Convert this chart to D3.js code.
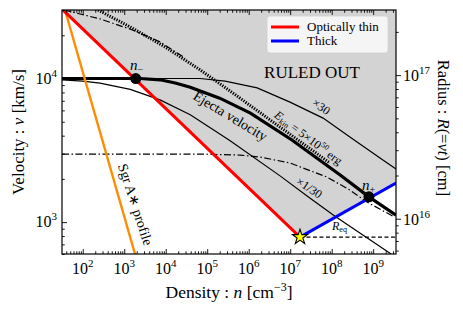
<!DOCTYPE html>
<html>
<head>
<meta charset="utf-8">
<script src="https://cdn.jsdelivr.net/npm/d3@7"></script>
<style>
  body { margin: 0; background: #fff; }
  svg text { font-family: "Liberation Serif", "Times New Roman", Times, serif; fill: #000; }
</style>
</head>
<body>
<svg id="chart" width="463" height="314"></svg>
<script>
// ---- data (density n [cm^-3], velocity v [km/s]) ----
const xMajor = [1e2, 1e3, 1e4, 1e5, 1e6, 1e7, 1e8, 1e9];
const vMajor = [1e3, 1e4];
const rMajor = [1e16, 1e17];

const redN = [33.4, 1.72e7];
const redV = [3.0e4, 787];
const blueN = [1.72e7, 3.55e9];
const blueV = [787, 1870];
const orangeN = [37.3, 1.82e3];
const orangeV = [3.0e4, 600];
const reqN = [1.72e7, 3.55e9];
const reqV = [787, 787];

// ejecta velocity, E_kin = 5e50 erg
const ejN = [31.6, 2.4e3, 7.3e3, 1.7e4, 3.9e4, 2.0e5, 1.1e6, 1.1e7, 1.6e8, 7.9e8, 3.55e9];
const ejV = [1e4, 1e4, 9.8e3, 9.3e3, 8.7e3, 7.3e3, 5.75e3, 3.73e3, 2.13e3, 1.5e3, 1.12e3];
// x30
const hiN = [31.6, 6.7e4, 2.7e5, 1.6e6, 9.9e6, 6.2e7, 2.8e8, 1.46e9, 3.55e9];
const hiV = [1e4, 1e4, 9.6e3, 8.6e3, 6.85e3, 5.3e3, 3.9e3, 2.8e3, 2.34e3];
// x1/30
const loN = [31.6, 100, 260, 1.4e3, 7.3e3, 3.9e4, 3.5e5, 5.7e6, 2.7e7, 1.2e8, 2.7e9];
const loV = [9.8e3, 9.6e3, 9.3e3, 8.4e3, 7.1e3, 5.6e3, 3.7e3, 2.1e3, 1.5e3, 1.1e3, 600];
// asymptote (dotted)
const sedN = [233, 1.38e3, 9.6e3, 6.7e4, 6.17e5, 3.85e6, 9.1e7];
const sedV = [3.0e4, 2.29e4, 1.66e4, 1.15e4, 7.3e3, 4.98e3, 2.58e3];
// dash-dot curves
const ddHiN = [35.3, 261, 1.38e3, 7.28e3, 2.92e4];
const ddHiV = [3.0e4, 2.6e4, 2.21e4, 1.8e4, 1.39e4];
const ddLoN = [31.6, 6.7e4, 6.2e5, 1.87e6, 9.9e6, 7.7e7, 2.76e8, 7.1e8, 3.0e9];
const ddLoV = [2.98e3, 2.98e3, 2.93e3, 2.84e3, 2.58e3, 2.06e3, 1.67e3, 1.38e3, 1.1e3];

const nMinus = [1.9e3, 1e4];
const nPlus = [7.9e8, 1.5e3];
const starPt = [1.72e7, 787];

// ---- layout ----
const L = 62, R = 396, T = 10, B = 254;
const svg = d3.select("#chart");

const x = d3.scaleLog().domain([10 ** 1.5, 10 ** 9.55]).range([L, R]);
const y = d3.scaleLog().domain([600, 3e4]).range([B, T]);
const tSec = 3 * 3.156e7; // R = v t
const yR = d3.scaleLog().domain([600 * 1e5 * tSec, 3e4 * 1e5 * tSec]).range([B, T]);

svg.append("clipPath").attr("id", "clip")
  .append("rect").attr("x", L).attr("y", T).attr("width", R - L).attr("height", B - T);

const plot = svg.append("g").attr("clip-path", "url(#clip)");
const pts = (ns, vs) => ns.map((n, i) => [n, vs[i]]);
const line = d3.line().x(d => x(d[0])).y(d => y(d[1]));

// ruled out region
const ruled = pts(redN, redV).concat(pts(blueN, blueV).slice(1));
ruled.push([x.domain()[1], y.domain()[1]]);
plot.append("path").attr("d", line(ruled) + "Z").attr("fill", "#d3d3d3");

function curve(ns, vs, color, width, dash) {
  const p = plot.append("path").datum(pts(ns, vs))
    .attr("d", line).attr("fill", "none")
    .attr("stroke", color).attr("stroke-width", width);
  if (dash) p.attr("stroke-dasharray", dash);
  return p;
}

curve(ddHiN, ddHiV, "#000", 1.2, "7,2.5,1.5,2.5");
curve(ddLoN, ddLoV, "#000", 1.2, "7,2.5,1.5,2.5");
curve(hiN, hiV, "#000", 1.2);
curve(loN, loV, "#000", 1.2);
curve(sedN, sedV, "#000", 3, "1.3,1.3");
curve(ejN, ejV, "#000", 3.2);
curve(orangeN, orangeV, "#ff8c00", 2.4);
curve(redN, redV, "#ff0000", 3);
curve(blueN, blueV, "#0000ff", 3);
curve(reqN, reqV, "#000", 1.3, "4,2.5");

[nMinus, nPlus].forEach(p => {
  plot.append("circle").attr("cx", x(p[0])).attr("cy", y(p[1])).attr("r", 5.5).attr("fill", "#000");
});
plot.append("path")
  .attr("d", d3.symbol(d3.symbolStar).size(70)())
  .attr("transform", `translate(${x(starPt[0])},${y(starPt[1])})`)
  .attr("fill", "#ffff00").attr("stroke", "#000").attr("stroke-width", 1.1);

// ---- annotations ----
function label(px, py, rot, size, parts, anchor) {
  const t = svg.append("text")
    .attr("transform", `translate(${px},${py}) rotate(${rot})`)
    .attr("font-size", size).attr("text-anchor", anchor || "start");
  parts.forEach(p => {
    const s = t.append("tspan").text(p.t);
    if (p.i) s.attr("font-style", "italic");
    if (p.sz) s.attr("font-size", p.sz);
    if (p.dy) s.attr("dy", p.dy);
  });
  return t;
}

label(312, 78, 0, 17, [{ t: "RULED OUT" }], "middle");
label(130, 70, 0, 15, [{ t: "n", i: 1 }, { t: "\u2212", sz: 10, dy: 3 }]);
label(362, 190, 0, 15, [{ t: "n", i: 1 }, { t: "+", sz: 10, dy: 3 }]);
label(332, 230, 0, 12, [{ t: "R", i: 1 }, { t: "eq", sz: 8, dy: 2 }]);
label(228, 120, 31, 14, [{ t: "Ejecta velocity" }], "middle");
label(319, 110, 35, 12, [{ t: "\u00d730" }], "middle");
label(307, 191, 34, 12, [{ t: "\u00d71/30" }], "middle");
label(306, 141, 37, 12, [
  { t: "E", i: 1 }, { t: "kin", sz: 8, dy: 2 }, { t: " = 5\u00d710", dy: -2 },
  { t: "50", sz: 8, dy: -5 }, { t: " erg", dy: 5 }], "middle");
label(131, 206, 72, 14, [{ t: "Sgr A" }, { t: "\u2217" }, { t: " profile" }], "middle");

// legend
const lg = svg.append("g");
lg.append("rect").attr("x", 267).attr("y", 16).attr("width", 121).attr("height", 37)
  .attr("rx", 3).attr("fill", "#f5f5f5").attr("stroke", "#d0d0d0").attr("stroke-width", 0.8);
lg.append("line").attr("x1", 271).attr("x2", 299).attr("y1", 27).attr("y2", 27)
  .attr("stroke", "#ff0000").attr("stroke-width", 3);
lg.append("line").attr("x1", 271).attr("x2", 299).attr("y1", 41).attr("y2", 41)
  .attr("stroke", "#0000ff").attr("stroke-width", 3);
lg.append("text").attr("x", 307).attr("y", 31).attr("font-size", 13).text("Optically thin");
lg.append("text").attr("x", 307).attr("y", 45).attr("font-size", 13).text("Thick");

// ---- axes ----
function minors(scale) {
  const [a, b] = scale.domain();
  const out = [];
  for (let e = Math.floor(Math.log10(a)); e <= Math.ceil(Math.log10(b)); e++) {
    for (let k = 2; k <= 9; k++) {
      const v = k * 10 ** e;
      if (v >= a && v <= b) out.push(v);
    }
  }
  return out;
}
function ticks(axisFn, scale, major, tx, ty, len) {
  const g1 = svg.append("g").attr("transform", `translate(${tx},${ty})`)
    .call(axisFn(scale).tickValues(major).tickSize(len).tickFormat(""));
  const g2 = svg.append("g").attr("transform", `translate(${tx},${ty})`)
    .call(axisFn(scale).tickValues(minors(scale)).tickSize(len * 0.55).tickFormat(""));
  [g1, g2].forEach(g => {
    g.select(".domain").remove();
    g.selectAll("line").attr("stroke", "#000").attr("stroke-width", 0.9);
  });
}
ticks(d3.axisBottom, x, xMajor, 0, B, -5);
ticks(d3.axisTop, x, xMajor, 0, T, -5);
ticks(d3.axisLeft, y, vMajor, L, 0, -5);
ticks(d3.axisRight, yR, rMajor, R, 0, 5);

svg.append("rect").attr("x", L).attr("y", T).attr("width", R - L).attr("height", B - T)
  .attr("fill", "none").attr("stroke", "#000").attr("stroke-width", 1.2);

function pow10(t, e) {
  t.append("tspan").text("10");
  t.append("tspan").text(e).attr("font-size", 11).attr("dy", -7);
}
xMajor.forEach(v => {
  const t = svg.append("text").attr("x", x(v)).attr("y", 274)
    .attr("font-size", 16).attr("text-anchor", "middle");
  pow10(t, Math.round(Math.log10(v)));
});
vMajor.forEach(v => {
  const t = svg.append("text").attr("x", 57).attr("y", y(v) + 5)
    .attr("font-size", 16).attr("text-anchor", "end");
  pow10(t, Math.round(Math.log10(v)));
});
rMajor.forEach(v => {
  const t = svg.append("text").attr("x", 403).attr("y", yR(v) + 6)
    .attr("font-size", 16).attr("text-anchor", "start");
  pow10(t, Math.round(Math.log10(v)));
});

// axis titles
label((L + R) / 2, 298, 0, 17.5, [
  { t: "Density : " }, { t: "n", i: 1 }, { t: " [cm" }, { t: "\u22123", sz: 12, dy: -7 }, { t: "]", dy: 7 }], "middle");
label(24, (T + B) / 2, -90, 17, [
  { t: "Velocity : " }, { t: "v", i: 1 }, { t: " [km/s]" }], "middle");
label(438, (T + B) / 2 - 4, 90, 16.5, [
  { t: "Radius : " }, { t: "R", i: 1 }, { t: "(=" }, { t: "vt", i: 1 }, { t: ") [cm]" }], "middle");
</script>
</body>
</html>
